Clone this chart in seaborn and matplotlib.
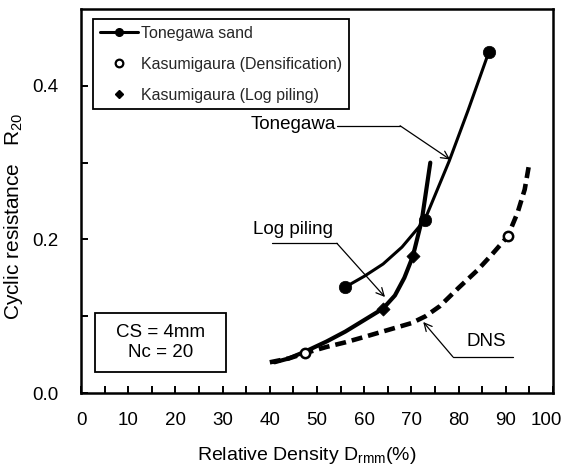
import matplotlib
matplotlib.use("Agg")
import matplotlib.pyplot as plt
from matplotlib.lines import Line2D
from matplotlib.patches import Rectangle
from matplotlib.transforms import ScaledTranslation
import seaborn as sns
import pandas as pd

# Tonegawa sand: measured points and the trend through them
tone_dr = [56.0, 72.8, 86.4]
tone_r20 = [0.138, 0.225, 0.444]
tone_curve_dr = [56.0, 60.0, 64.0, 68.0, 72.8, 78.0, 82.0, 86.4]
tone_curve_r20 = [0.138, 0.152, 0.168, 0.190, 0.225, 0.302, 0.368, 0.444]

# Kasumigaura, log piling: measured points and trend
log_dr = [64.0, 70.3]
log_r20 = [0.110, 0.178]
log_curve_dr = [41.0, 44.0, 47.5, 52.0, 56.0, 60.0, 64.0, 66.5, 68.5, 70.3, 72.2, 74.0]
log_curve_r20 = [0.040, 0.045, 0.054, 0.067, 0.080, 0.095, 0.110, 0.127, 0.150, 0.178, 0.225, 0.300]

# Kasumigaura, densification (DNS): measured points and trend
dns_dr = [47.5, 90.4]
dns_r20 = [0.052, 0.204]
dns_curve_dr = [40.0, 44.0, 47.5, 52.0, 56.0, 60.0, 65.0, 70.0, 73.0, 76.0, 80.0, 84.0, 87.0, 90.4, 92.5, 94.0, 95.0]
dns_curve_r20 = [0.040, 0.045, 0.052, 0.060, 0.066, 0.073, 0.082, 0.091, 0.100, 0.113, 0.137, 0.160, 0.180, 0.204, 0.235, 0.265, 0.300]

x_ticks = [0, 10, 20, 30, 40, 50, 60, 70, 80, 90, 100]
y_ticks = [0.0, 0.2, 0.4]
legend_labels = ["Tonegawa sand", "Kasumigaura (Densification)", "Kasumigaura (Log piling)"]

sns.set_theme(style="white")
plt.rcParams["font.family"] = ["Liberation Sans", "DejaVu Sans"]
plt.rcParams["mathtext.fontset"] = "custom"
plt.rcParams["mathtext.rm"] = "Liberation Sans"
plt.rcParams["mathtext.it"] = "Liberation Sans"

FS = 13.5

fig = plt.figure(figsize=(5.65, 4.75), dpi=100)
ax = fig.add_axes([0.1434, 0.1726, 0.8354, 0.8084])

tone_df = pd.DataFrame({"Dr": tone_curve_dr, "R20": tone_curve_r20})
log_df = pd.DataFrame({"Dr": log_curve_dr, "R20": log_curve_r20})
dns_df = pd.DataFrame({"Dr": dns_curve_dr, "R20": dns_curve_r20})

sns.lineplot(data=tone_df, x="Dr", y="R20", ax=ax, color="black", lw=2.2,
             sort=False, estimator=None)
sns.lineplot(data=log_df, x="Dr", y="R20", ax=ax, color="black", lw=3.0,
             sort=False, estimator=None)
sns.lineplot(data=dns_df, x="Dr", y="R20", ax=ax, color="black", lw=3.3,
             sort=False, estimator=None, dashes=False)
ax.lines[-1].set_dashes((2.4, 1.3))

sns.scatterplot(x=tone_dr, y=tone_r20, ax=ax, color="black", marker="o",
                s=80, edgecolor="black", linewidth=0.5, zorder=5)
sns.scatterplot(x=log_dr, y=log_r20, ax=ax, color="black", marker="D",
                s=45, edgecolor="black", linewidth=0.5, zorder=5)
sns.scatterplot(x=dns_dr, y=dns_r20, ax=ax, facecolor="white", marker="o",
                s=45, edgecolor="black", linewidth=1.8, zorder=5)

ax.set_xlim(0, 100)
ax.set_ylim(0, 0.5)
ax.set_xticks(range(0, 101, 5), minor=True)
ax.set_xticks(x_ticks)
ax.set_xticklabels([str(v) for v in x_ticks])
ax.set_yticks([0.1, 0.3], minor=True)
ax.set_yticks(y_ticks)
ax.set_yticklabels([f"{v:.1f}" for v in y_ticks])
ax.tick_params(axis="both", which="both", direction="in", length=5, width=1.4,
               color="black", labelsize=FS, labelcolor="black")
ax.tick_params(axis="x", which="both", pad=14, top=False, bottom=True)
ax.tick_params(axis="y", which="both", pad=16, left=True, right=False)
for sp in ax.spines.values():
    sp.set_color("black")
    sp.set_linewidth(1.8)

# keep the "100" label inside the figure edge
last = ax.get_xticklabels()[-1]
last.set_transform(last.get_transform() + ScaledTranslation(-5 / 72, 0, fig.dpi_scale_trans))

ax.set_xlabel("Relative Density D$_{\\mathrm{rmm}}$(%)", fontsize=14, color="black")
ax.xaxis.set_label_coords(0.478, -0.135)
ax.set_ylabel("Cyclic resistance   R$_{20}$", fontsize=15, color="black")
ax.yaxis.set_label_coords(-0.119, 0.461)

# curve labels with leader arrows
arrow_kw = dict(arrowstyle="->", color="black", lw=0.9, shrinkA=0, shrinkB=0,
                mutation_scale=14)
ax.text(54.0, 0.350, "Tonegawa", fontsize=FS, ha="right", va="center", color="black")
ax.plot([54.3, 67.6], [0.348, 0.348], color="black", lw=0.9)
ax.annotate("", xy=(78.2, 0.304), xytext=(67.6, 0.348), arrowprops=arrow_kw)

ax.text(45.0, 0.213, "Log piling", fontsize=FS, ha="center", va="center", color="black")
ax.plot([40.5, 54.2], [0.195, 0.195], color="black", lw=0.9)
ax.annotate("", xy=(64.4, 0.125), xytext=(54.2, 0.195), arrowprops=arrow_kw)

ax.text(85.8, 0.067, "DNS", fontsize=FS, ha="center", va="center", color="black")
ax.plot([78.8, 91.5], [0.047, 0.047], color="black", lw=0.9)
ax.annotate("", xy=(72.5, 0.0925), xytext=(78.8, 0.047), arrowprops=arrow_kw)

# test conditions box
ax.add_patch(Rectangle((0.030, 0.0547), 0.2775, 0.154, transform=ax.transAxes,
                       facecolor="white", edgecolor="black", lw=1.3, zorder=4))
ax.text(0.1688, 0.1317, "CS = 4mm\nNc = 20", transform=ax.transAxes, fontsize=FS,
        ha="center", va="center", linespacing=1.25, color="black", zorder=6)

handles = [
    Line2D([], [], color="black", lw=2.2, marker="o", markersize=5.5),
    Line2D([], [], color="black", lw=0, marker="o", markersize=5.5,
           markerfacecolor="white", markeredgewidth=1.6),
    Line2D([], [], color="black", lw=0, marker="D", markersize=4.5),
]
leg = ax.legend(handles, legend_labels, loc="upper left",
                bbox_to_anchor=(0.025, 0.974), fontsize=11.5, frameon=True,
                fancybox=False, framealpha=1, edgecolor="black",
                handlelength=2.4, handletextpad=0.2, borderpad=0.42,
                labelspacing=1.0, borderaxespad=0)
leg.get_frame().set_linewidth(1.3)

fig.savefig("out.png", dpi=100)
